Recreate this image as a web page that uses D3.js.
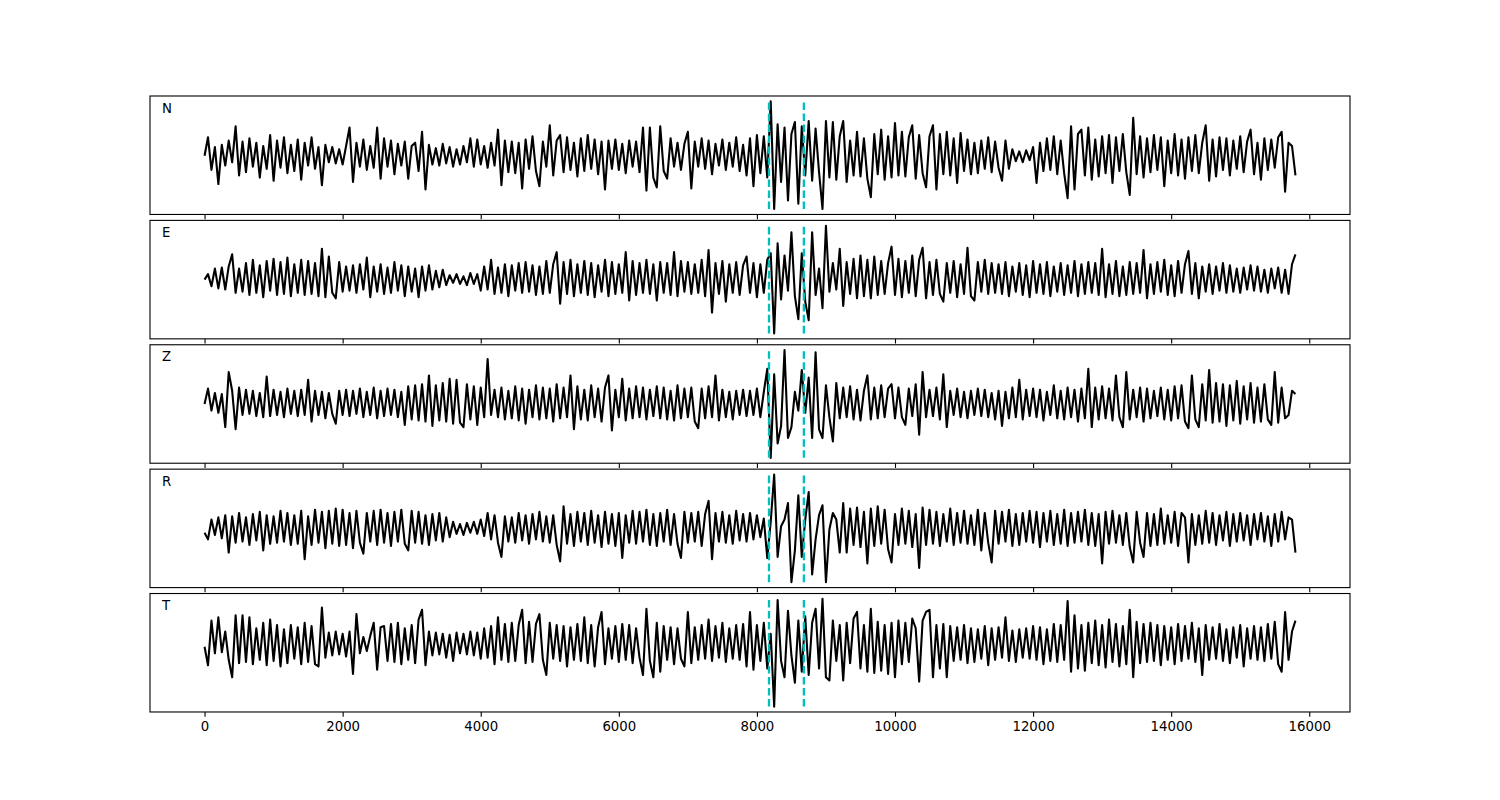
<!DOCTYPE html>
<html>
<head>
<meta charset="utf-8">
<script src="https://cdn.jsdelivr.net/npm/d3@7"></script>
<style>
body { margin: 0; background: #fff; }
text { font-family: "DejaVu Sans", sans-serif; }
</style>
</head>
<body>
<svg width="1500" height="800"></svg>
<script>
// composantes et pas d'echantillonnage
const channels = ["N", "E", "Z", "R", "T"];
const step = 50;
const picks = [8175, 8680];
const xTicks = [0, 2000, 4000, 6000, 8000, 10000, 12000, 14000, 16000];

const traceN = [
  0, 17, -13, 8, -26, 10, -9, 14, -6, 27,
  -18, 13, -15, 16, -10, 12, -20, 9, -12, 19,
  -23, 14, -11, 17, -16, 10, -14, 15, -22, 12,
  -9, 17, -12, 8, -27, 10, -6, 8, -7, 6,
  -8, 9, 26, -24, 12, -10, 15, -13, 9, -11,
  26, -21, 16, -10, 14, -17, 11, -9, 13, -21,
  9, 12, -14, 22, -31, 10, -8, 7, -9, 11,
  -7, 8, -10, 6, -8, 9, -6, 16, -10, 15,
  -8, 9, -11, 12, -9, 24, -27, 14, -15, 13,
  -16, 12, -30, 15, -12, 18, -14, -28, 13, -10,
  28, -18, 14, 19, -15, 17, -13, 12, -19, 16,
  -14, 19, -12, 15, -17, 13, -31, 14, -12, 15,
  -13, 11, -16, 14, -10, 13, -15, 26, -32, 26,
  -20, -29, 27, -14, -21, 16, -10, 12, -13, 11,
  22, -30, 13, -10, 16, -12, 14, -17, 11, -9,
  15, -13, 12, -10, 17, -14, 10, -18, 16, -28,
  19, -16, 18, -20, 50, -49, 29, -24, 26, -41,
  20, 31, -44, 27, -18, 32, -23, 25, -15, -49,
  32, -20, 31, -22, 18, 32, -24, 14, -18, 22,
  -19, 16, -21, -38, 20, -17, 24, -22, 18, -20,
  30, -18, 22, -19, 17, 28, -21, 19, -16, -29,
  18, 28, -31, 20, -17, 22, -18, 16, -25, 21,
  -14, 15, -17, 12, -16, 14, -12, 17, -15, 13,
  -11, -23, 14, -12, 6, -5, 4, -6, 5, -4,
  8, -25, 12, -14, 16, -13, 18, -17, 14, -16,
  -39, 27, -31, 20, 24, -18, 26, -22, 15, -19,
  18, -16, 19, -25, 17, -14, 20, -15, -36, 35,
  -17, 18, -20, 16, -15, 19, -13, 17, -28, 14,
  -16, 20, -18, 15, -21, 17, -14, 19, -16, 12,
  28, -23, 15, -19, 17, -13, 16, -18, 14, -12,
  18, -15, 13, 24, -17, 12, -22, 16, -13, 15,
  -11, 17, 22, -33, 12, 9, -18
];

const traceE = [
  0, 5, -6, 10, -8, 11, -9, 12, 23, -12,
  10, -11, 15, -14, 18, -12, 13, -16, 17, -10,
  19, -14, 16, -13, 20, -15, 14, -12, 18, -14,
  17, -13, 15, -15, 28, -16, 21, -12, -17, 16,
  -11, 12, -10, 13, -12, 14, -9, 20, -16, 12,
  -11, 14, -13, 11, -12, 16, -10, 13, -15, 12,
  -11, 10, -16, 12, -10, 13, -9, 8, -7, 9,
  -5, 4, -3, 5, -4, 3, -5, 6, -4, 5,
  -10, 12, -9, 18, -13, 11, -12, 14, -15, 13,
  -10, 15, -12, 16, -11, 13, -14, 12, -13, 17,
  -12, 14, 25, -22, 16, -13, 18, -15, 14, -12,
  17, -14, 15, -16, 13, -11, 18, -15, 16, -13,
  14, -12, 25, -19, 17, -14, 15, -12, 18, -13,
  14, -19, 16, -12, 15, -14, 25, -15, 17, -11,
  16, -13, 14, -12, 18, -15, 27, -30, 15, -13,
  17, -20, 14, -12, 16, -14, 13, 21, -12, 15,
  -16, 14, -12, 18, 24, -49, 33, -18, 22, -10,
  43, -15, -36, 24, -20, -37, 43, -14, 10, -26,
  49, -11, 15, -9, 28, -24, 16, -13, 19, -17,
  22, -15, 18, -17, 21, -14, 17, -13, 15, 30,
  -14, 19, -16, 17, -12, 22, -15, 18, 29, -17,
  16, -14, 18, -13, -20, 15, -12, 17, -16, 14,
  -13, 29, -15, -19, 16, -11, 18, -13, 15, -12,
  14, -13, 16, -15, 12, -11, 15, -14, 13, -16,
  17, -12, 14, -13, 16, -15, 12, -11, 15, -14,
  13, -12, 17, -15, 14, -13, 16, -12, 15, -14,
  28, -16, 14, -13, 17, -15, 12, -14, 16, -13,
  15, -12, 27, -17, 14, -13, 16, -11, 18, -14,
  13, -15, 17, -12, 14, 26, -13, 15, -17, 12,
  -11, 14, -13, 12, -10, 15, -12, 13, -11, 10,
  -12, 11, -9, 13, -10, 12, -11, 9, -12, 10,
  -8, 11, -12, 9, -13, 14, 23
];

const traceZ = [
  0, 14, -6, 10, -8, 9, -21, 29, 12, -23,
  15, -10, 13, -9, 12, -11, 10, -12, 25, -11,
  13, -10, 11, -12, 14, -9, 12, -11, 13, -10,
  22, -16, 12, -10, 11, -13, 10, -9, -18, 12,
  -10, 13, -11, 12, -9, 14, -12, 11, -10, 15,
  -13, 12, -11, 14, -10, 13, -12, 11, -19, 16,
  -14, 17, -15, 18, -16, 26, -20, 17, -15, 19,
  -16, 23, -18, 22, -17, -21, 18, -14, 16, -19,
  15, -12, 41, -10, 13, -12, 15, -14, 12, -13,
  16, -15, 14, -18, 13, -12, 17, -14, 15, -13,
  14, -16, 18, -13, 15, -12, 26, -23, 16, -14,
  13, -15, 17, -12, 14, -16, 15, 26, -24, 13,
  -12, 23, -15, 14, -13, 16, -12, 15, -14, 13,
  -11, 16, -13, 15, -14, 12, -15, 17, -13, 14,
  -12, 15, -16, -22, 14, -13, 16, -12, 26, -15,
  13, -12, 11, -14, 12, -10, 13, -11, 12, -10,
  14, -12, 11, 32, -49, 27, -36, -20, 49, -31,
  -21, 11, -6, 31, -8, 24, -31, 47, -23, -31,
  17, -12, -34, 19, -13, 15, -12, 16, -14, 13,
  -15, 12, 26, -14, 15, -13, 17, -12, 14, 18,
  -13, 15, -12, -19, 14, -11, 18, -28, 29, -12,
  13, -11, 15, -14, 27, -21, 12, -10, 14, -12,
  11, -13, 12, -10, 14, -11, 13, -12, 10, -14,
  12, -20, 11, -13, 15, -12, 22, -14, 13, -11,
  14, -12, 13, -15, 11, -10, 17, -13, 12, -14,
  15, -12, 13, -16, 14, -13, 32, -21, 15, -14,
  16, -13, 14, -15, 26, -12, -21, 29, -14, 13,
  -12, 15, -16, 14, -13, 12, -11, 15, -14, 13,
  -15, 16, -13, 17, -16, -22, 26, -14, -21, 18,
  -15, 31, -17, 19, -16, 18, -20, 17, -15, 21,
  -18, 16, -14, 19, -17, 15, -16, 18, -14, -19,
  29, -17, 15, -13, -10, 12, 9
];

const traceR = [
  -4, -10, 8, -6, 10, -9, 12, -22, 11, -13,
  14, -12, 10, -15, 13, -11, 15, -20, 12, -14,
  11, -13, 16, -12, 14, -15, 12, -14, 16, -28,
  11, -15, 17, -13, 15, -18, 16, -14, 18, -16,
  17, -15, 14, -18, 16, -13, -23, 14, -12, 16,
  -15, 17, -13, 14, -16, 15, -12, 17, -14, -20,
  16, -13, 15, -14, 12, -15, 13, -11, 14, -12,
  10, -8, 6, -5, 4, -6, 5, -4, 6, -5,
  8, -7, 14, -10, 12, -13, -26, 11, -12, 10,
  -13, 14, -11, 12, -14, 13, -10, 15, -12, 11,
  -13, 12, -15, -30, 20, -14, 13, -16, 15, -12,
  14, -15, 16, -13, 12, -17, 15, -14, 13, -16,
  14, -27, 12, -13, 16, -14, 15, -12, 17, -15,
  13, -16, 14, -12, 17, -15, 13, -14, -27, 15,
  -13, 14, -12, 15, -16, 13, 25, -28, 14, -12,
  15, -13, 12, -14, 16, -11, 13, -12, 14, -10,
  12, -8, 9, -27, 6, 49, -26, 2, 8, 23,
  -49, -20, 30, -26, 8, 33, -42, -10, 12, 21,
  -49, -1, 14, 8, -22, 23, -22, 18, -15, 19,
  -17, 15, -32, 18, -16, 20, -14, 17, -19, -31,
  13, -15, 18, -14, 16, -17, 13, -36, 19, -15,
  17, -14, 15, -16, 13, -12, 18, -15, 14, -13,
  16, -14, 12, -15, 17, -20, 14, -13, -31, 16,
  -14, 15, -12, 17, -16, 13, -15, 14, -12, 16,
  -13, 15, -17, 14, -12, 16, -15, 13, -14, 17,
  -16, 14, -13, 15, -12, 17, -15, 14, -16, 13,
  -32, 15, -14, 16, -13, 12, -15, 14, -17, -31,
  15, -13, -26, 14, -16, 13, -15, 18, -14, 12,
  -13, 15, -16, 14, 10, -31, 13, -15, 12, -14,
  16, -13, 14, -15, 12, -11, 15, -16, 13, -12,
  14, -11, 12, -15, 13, -10, 14, -12, 11, -16,
  13, -12, 15, -10, 10, 8, -22
];

const traceT = [
  -2, -19, 22, -8, 25, -7, 12, -14, -30, 27,
  -17, 27, -16, 25, -18, 15, -14, 20, -19, 23,
  -15, 18, -20, 14, -17, 18, -13, 16, -18, 20,
  -16, 17, -18, -20, 34, -12, 11, -10, 12, -9,
  10, -11, 12, -27, 28, -8, 7, -6, 8, 20,
  -23, 16, 17, -15, 19, -16, 20, -18, 15, -14,
  18, -17, 23, 32, -19, 12, -10, 11, -9, 10,
  -12, 9, -15, 11, -8, 10, -9, 12, -10, 11,
  -13, 15, -12, 17, -18, 25, -14, 19, -16, 20,
  -15, 18, 32, -17, 21, -16, 19, 28, -14, -28,
  20, -13, 18, -15, 17, -20, 16, -14, 19, -15,
  25, -17, 18, -20, 16, 30, -18, 15, -13, 17,
  -16, 19, -14, 18, -17, 15, -12, -28, 33, -15,
  -30, 20, -25, 17, -14, 16, -18, 15, -13, -20,
  30, -17, 16, -14, 18, -13, 23, -15, 17, -12,
  20, -16, 15, -13, 18, -14, 19, -20, 30, -23,
  18, -15, 20, -22, 10, -57, 41, -15, -30, 31,
  -10, -35, 22, -25, 26, -28, 20, 33, -22, 42,
  -30, -33, 22, -15, 18, -33, 20, -17, 24, 30,
  -22, 18, -25, 33, -26, 21, -24, 18, -27, 20,
  -30, 22, -18, 20, -16, 24, 15, -34, 22, 30,
  32, -30, 18, -22, 19, -30, 17, -15, 16, -14,
  18, -17, 15, -16, 14, -13, 17, -19, 15, -14,
  16, -12, 25, -15, 13, -16, 14, -12, 15, -13,
  17, -14, 16, -18, 14, -15, 19, -16, 18, -14,
  40, -25, 27, -22, 18, -24, 20, -17, 22, -19,
  18, -21, 23, -16, 19, -20, 17, -18, 32, -30,
  21, -17, 19, -16, 20, -15, 18, -19, 17, -14,
  16, -18, 19, -15, 17, -13, 20, -16, 15, -28,
  18, -14, 16, -13, 19, -15, 14, -17, 16, -12,
  18, -20, 15, -13, 17, -14, 16, -15, 19, -13,
  21, -18, -25, 30, -14, 12, 22
];

const traces = [traceN, traceE, traceZ, traceR, traceT];

let svg = d3.select("svg");
svg.append("rect").attr("width", 1500).attr("height", 800).attr("fill", "white");

// mise en page facon matplotlib (15x8 pouces, 100 dpi)
const left = 150, width = 1200;
const top0 = 96, panelH = 118.46, gap = 5.92;

let xmax = d3.max(traces, t => (t.length - 1) * step);
let x = d3.scaleLinear()
  .domain([-0.05 * xmax, 1.05 * xmax])
  .range([left, left + width]);

let line = d3.line();

traces.forEach(function (trace, k) {
  let top = top0 + k * (panelH + gap);
  let ext = d3.extent(trace);
  let pad = 0.05 * (ext[1] - ext[0]);
  let y = d3.scaleLinear()
    .domain([ext[0] - pad, ext[1] + pad])
    .range([top + panelH, top]);

  let g = svg.append("g");

  g.append("path")
    .datum(trace)
    .attr("fill", "none")
    .attr("stroke", "black")
    .attr("stroke-width", 2.08)
    .attr("stroke-linejoin", "round")
    .attr("d", line.x((d, i) => x(i * step)).y(d => y(d)));

  // lignes des pointes (de min a max du signal)
  g.selectAll("line.pick")
    .data(picks)
    .enter()
    .append("line")
    .attr("class", "pick")
    .attr("x1", d => x(d))
    .attr("x2", d => x(d))
    .attr("y1", y(ext[0]))
    .attr("y2", y(ext[1]))
    .attr("stroke", "#00bfbf")
    .attr("stroke-width", 2.3)
    .attr("stroke-dasharray", "7.7,3.3");

  let axis = d3.axisBottom(x)
    .tickValues(xTicks)
    .tickSize(4.7)
    .tickPadding(4.5)
    .tickFormat(k === traces.length - 1 ? d3.format("d") : () => "");

  let ax = g.append("g")
    .attr("transform", "translate(0," + (top + panelH) + ")")
    .call(axis);
  ax.select(".domain").remove();
  ax.selectAll("line").attr("stroke", "black").attr("stroke-width", 1.1);
  ax.selectAll("text")
    .attr("fill", "black")
    .style("font-family", "DejaVu Sans")
    .style("font-size", "13.3px");

  g.append("rect")
    .attr("x", left)
    .attr("y", top)
    .attr("width", width)
    .attr("height", panelH)
    .attr("fill", "none")
    .attr("stroke", "black")
    .attr("stroke-width", 1.1);

  g.append("text")
    .attr("x", left + 0.01 * width)
    .attr("y", top + 16.5)
    .style("font-size", "13.3px")
    .attr("fill", "black")
    .text(channels[k]);
});
</script>
</body>
</html>
